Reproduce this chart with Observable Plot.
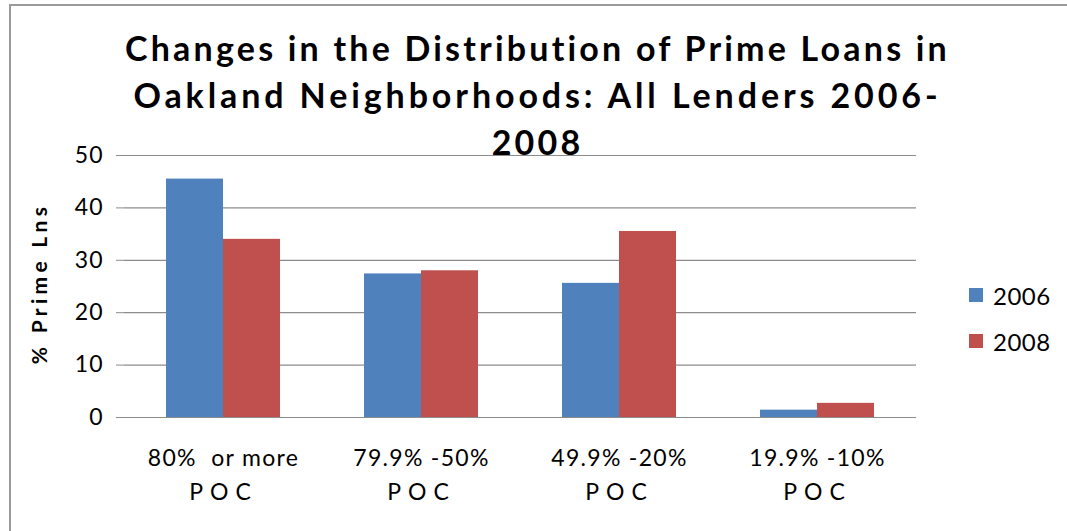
<!DOCTYPE html>
<html>
<head>
<meta charset="utf-8">
<script src="https://cdn.jsdelivr.net/npm/d3@7"></script>
<script src="https://cdn.jsdelivr.net/npm/@observablehq/plot@0.6"></script>
<style>
  html, body { margin: 0; padding: 0; background: #fff; }
  #wrap { position: relative; width: 1067px; height: 531px; overflow: hidden; font-family: Lato, "Open Sans", sans-serif; }
  #border { position: absolute; left: 9px; top: 4px; width: 1070px; height: 540px; border-left: 2px solid #9a9a9a; border-top: 2px solid #9a9a9a; box-sizing: border-box; }
  #title { position: absolute; left: 0; width: 1067px; top: 24px; text-align: center; font-weight: 700; font-size: 34px; line-height: 47px; letter-spacing: 3.2px; color: #000; padding-left: 8px; box-sizing: border-box; white-space: nowrap; }
  #title .l2 { letter-spacing: 3.9px; }
  #legend { position: absolute; left: 969px; top: 281px; font-size: 24px; color: #000; letter-spacing: 0.5px; }
  .li { display: flex; align-items: center; height: 28px; margin-bottom: 18px; }
  .sw { width: 14px; height: 14px; margin-right: 10px; }
  #chart { position: absolute; left: 0; top: 0; }
</style>
</head>
<body>
<div id="wrap">
  <div id="chart"></div>
  <div id="border"></div>
  <div id="title">Changes in the Distribution of Prime Loans in<br><span class="l2">Oakland Neighborhoods: All Lenders 2006-</span><br>2008</div>
  <div id="legend"></div>
</div>
<script>
const categories = ["80%  or more", "79.9% -50%", "49.9% -20%", "19.9% -10%"];
const categoryLine2 = ["POC", "POC", "POC", "POC"];
const years = ["2006", "2008"];
const values2006 = [45.5, 27.4, 25.6, 1.4];
const values2008 = [34.0, 28.0, 35.5, 2.7];
const yTicks = [0, 10, 20, 30, 40, 50];
const colors = ["#4f81bd", "#c0504d"];
const yLabel = "% Prime Lns";

const data = [];
categories.forEach((c, i) => {
  data.push({cat: c, year: years[0], value: values2006[i]});
  data.push({cat: c, year: years[1], value: values2008[i]});
});

const font = "Lato, 'Open Sans', sans-serif";
const chart = Plot.plot({
  width: 1067,
  height: 531,
  marginLeft: 122,
  marginRight: 150,
  marginTop: 155,
  marginBottom: 114,
  style: {fontFamily: font, color: "#000", background: "transparent"},
  fx: {domain: categories, padding: 0, axis: null},
  x: {domain: years, paddingInner: 0, paddingOuter: 0.72, axis: null},
  y: {domain: [0, 50], ticks: yTicks},
  color: {domain: years, range: colors},
  marks: [
    Plot.ruleY(yTicks, {stroke: "#8c8c8c", strokeWidth: 1.2}),
    Plot.barY(data, {fx: "cat", x: "year", y: "value", fill: "year", inset: 0}),
    Plot.axisY({ticks: yTicks, tickSize: 8, tickPadding: 13, fontSize: 23, stroke: "#8c8c8c", label: null, anchor: "left"}),
    Plot.ruleX([0], {frameAnchor: "left", y1: 0, y2: 50, stroke: "#8c8c8c", strokeWidth: 1.5, facet: "exclude", fx: null}),
    Plot.text([yLabel], {frameAnchor: "left", y: 25, dx: -84, dy: -3, rotate: -90, textAnchor: "middle", lineAnchor: "middle", fontWeight: "bold", fontSize: 21, facetAnchor: "left"}),
    Plot.text(categories, {fx: d => d, text: d => d, frameAnchor: "bottom", lineAnchor: "middle", dy: 41, fontSize: 23}),
    Plot.text(categories, {fx: d => d, text: (d, i) => categoryLine2[i], frameAnchor: "bottom", lineAnchor: "middle", dy: 75, fontSize: 23})
  ]
});
document.getElementById("chart").appendChild(chart);

// typographic tweaks to mimic the stretched original lettering
d3.select(chart).selectAll("text").each(function() {
  const t = d3.select(this);
  const s = this.textContent;
  if (s === "POC") t.style("letter-spacing", "7px");
  else if (s === yLabel) t.style("letter-spacing", "4.3px");
  else if (categories.includes(s)) t.style("letter-spacing", "1.3px");
  else t.style("letter-spacing", "1px");
});

const lg = document.getElementById("legend");
years.forEach((y, i) => {
  const row = document.createElement("div");
  row.className = "li";
  row.innerHTML = `<div class="sw" style="background:${colors[i]}"></div><span>${y}</span>`;
  lg.appendChild(row);
});
</script>
</body>
</html>
